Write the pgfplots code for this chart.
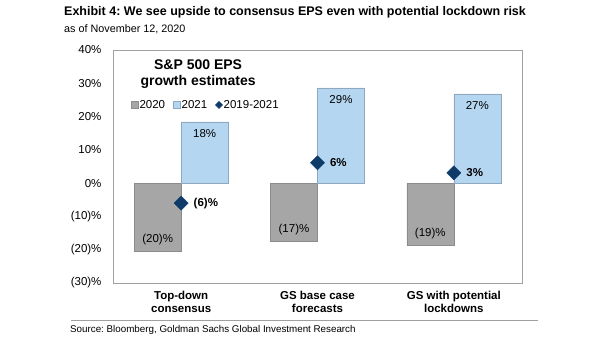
\documentclass[border=0pt]{standalone}
\usepackage{fontspec}
\setmainfont{Liberation Sans}
\usepackage{pgfplots}
\pgfplotsset{compat=1.18}
\definecolor{gbar}{HTML}{A6A6A6}
\definecolor{gedge}{HTML}{8C8C8C}
\definecolor{bbar}{HTML}{B4D6F0}
\definecolor{bedge}{HTML}{8FA8BF}
\definecolor{navy}{HTML}{0F3B68}
\definecolor{frame}{HTML}{A0A0A0}
\begin{document}
\frenchspacing
\begin{tikzpicture}
\useasboundingbox (0pt,0pt) rectangle (605pt,341pt);
\node[anchor=west,inner sep=0pt,font=\fontsize{12.5}{14}\selectfont\bfseries] at (64pt,329pt) {Exhibit 4: We see upside to consensus EPS even with potential lockdown risk};
\node[anchor=west,inner sep=0pt,font=\fontsize{10.8}{12}\selectfont] at (64pt,312pt) {as of November 12, 2020};
\draw[frame,line width=0.8pt] (71pt,21pt) -- (538pt,21pt);
\node[anchor=west,inner sep=0pt,font=\fontsize{9.8}{12}\selectfont] at (70pt,11pt) {Source: Bloomberg, Goldman Sachs Global Investment Research};
\begin{axis}[
  at={(113pt,58pt)}, anchor=south west,
  scale only axis, width=409pt, height=233pt,
  xmin=-0.5, xmax=2.5, ymin=-30, ymax=40,
  axis line style={frame, line width=0.8pt},
  major tick length=0pt,
  ytick={-30,-20,...,40},
  yticklabels={(30)\%,(20)\%,(10)\%,0\%,10\%,20\%,30\%,40\%},
  yticklabel style={font=\fontsize{11.5}{13}\selectfont, xshift=-8pt},
  xtick={0,1,2},
  xticklabels={Top-down\\consensus, GS base case\\forecasts, GS with potential\\lockdowns},
  xticklabel style={font=\fontsize{11.5}{13}\selectfont\bfseries, align=center, yshift=-5pt},
  clip=false,
  legend columns=3,
  legend style={at={(0.036,0.764)}, anchor=west, draw=none, fill=none,
    font=\fontsize{11.5}{13}\selectfont,
    /tikz/every even column/.append style={column sep=7pt},
    nodes={inner xsep=1pt}},
]
\addplot[ybar, bar width=0.345, bar shift=-0.1725, fill=gbar, draw=gedge, line width=0.6pt,
  nodes near coords, point meta=explicit symbolic,
  every node near coord/.style={anchor=south, yshift=3pt, xshift=-23.5pt, font=\fontsize{11.5}{13}\selectfont, text=black},
  legend image code/.code={\draw[fill=gbar,draw=gedge] (0pt,-3.5pt) rectangle (7pt,3.5pt);}]
  coordinates {(0,-20.4) [(20)\%] (1,-17.4) [(17)\%] (2,-18.6) [(19)\%]};
\addlegendentry{2020}
\addplot[ybar, bar width=0.345, fill=bbar, draw=bedge, line width=0.6pt,
  bar shift=0.1725,
  nodes near coords, point meta=explicit symbolic,
  every node near coord/.style={anchor=north, yshift=-4pt, xshift=23.5pt, font=\fontsize{11.5}{13}\selectfont, text=black},
  legend image code/.code={\draw[fill=bbar,draw=bedge] (0pt,-3.5pt) rectangle (7pt,3.5pt);}]
  coordinates {(0,18.4) [18\%] (1,28.6) [29\%] (2,26.8) [27\%]};
\addlegendentry{2021}
\addplot[only marks, mark=square*, mark size=5pt, mark options={fill=navy, draw=navy, rotate=45},
  nodes near coords, point meta=explicit symbolic,
  every node near coord/.style={anchor=west, xshift=9pt, font=\fontsize{11.5}{13}\selectfont\bfseries, text=black},
  legend image code/.code={\fill[navy] (0pt,0pt) -- (3.5pt,3.5pt) -- (7pt,0pt) -- (3.5pt,-3.5pt) -- cycle;}]
  coordinates {(0,-6) [(6)\%] (1,6.1) [6\%] (2,3.1) [3\%]};
\addlegendentry{2019-2021}
\node[align=center, font=\fontsize{14}{16}\selectfont\bfseries] at (rel axis cs:0.208,0.896) {S\&P 500 EPS\\growth estimates};
\end{axis}
\end{tikzpicture}
\end{document}
